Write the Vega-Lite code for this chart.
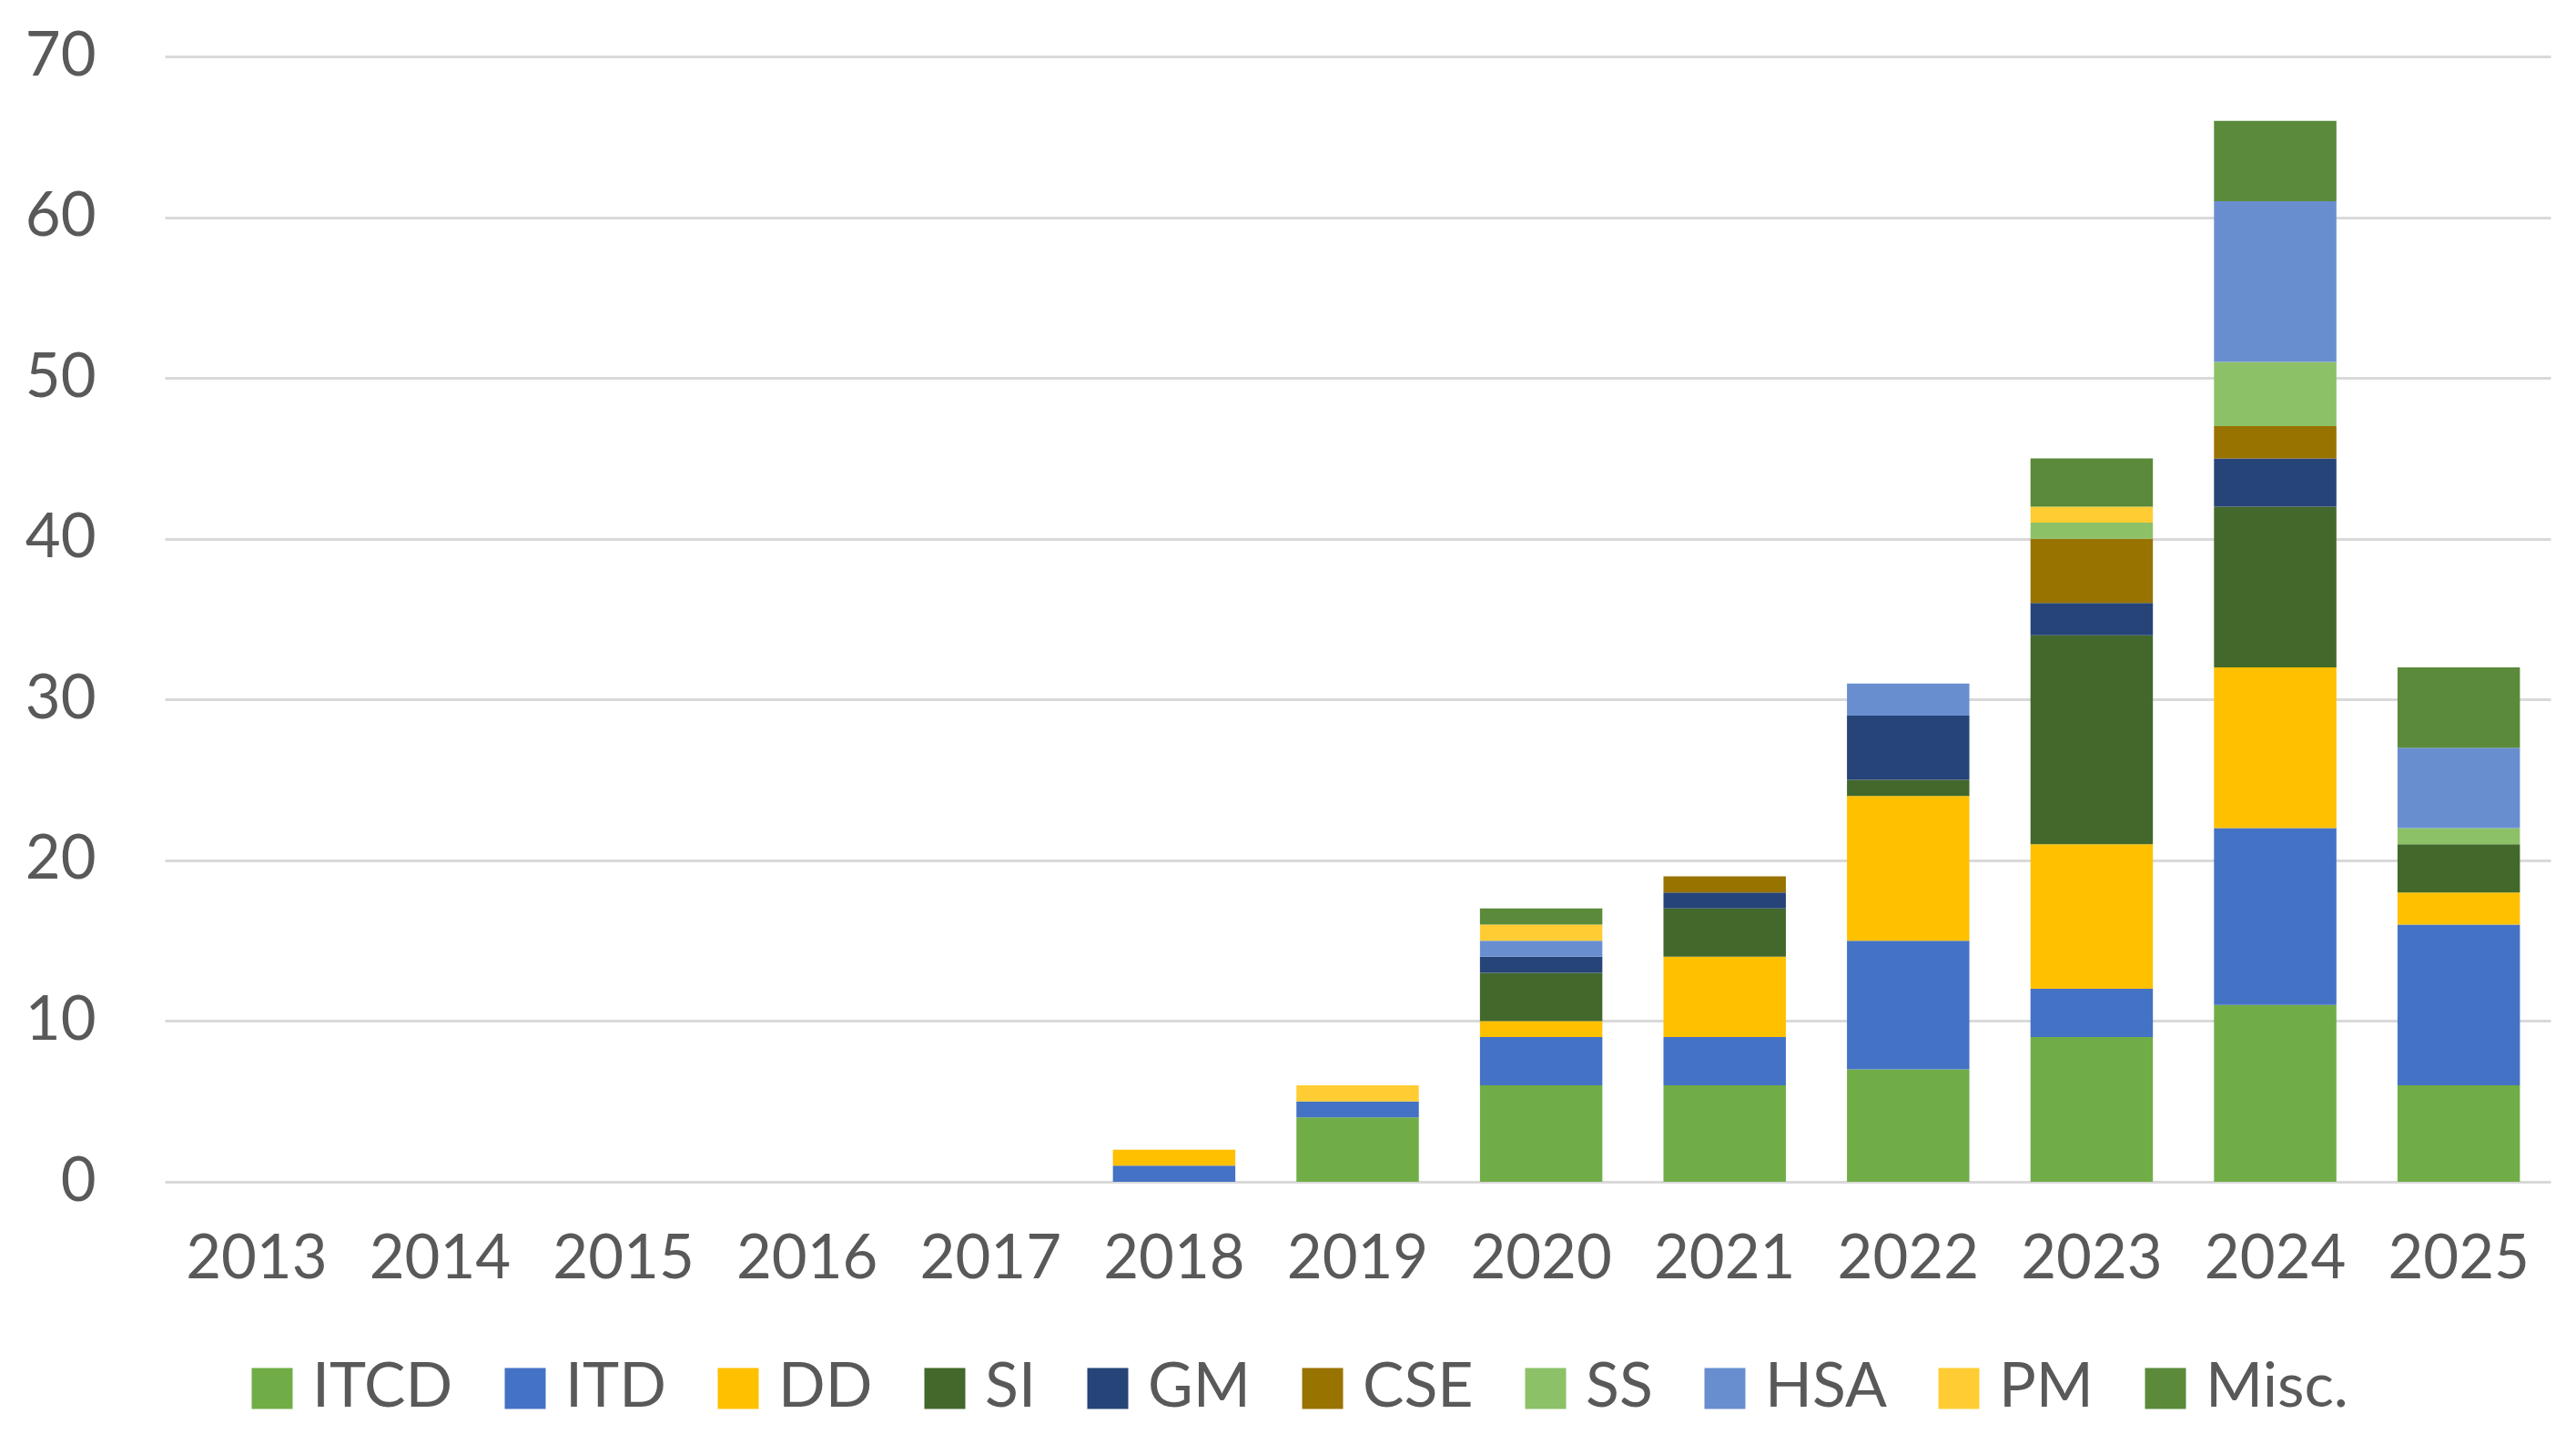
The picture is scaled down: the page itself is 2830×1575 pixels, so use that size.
{
  "$schema": "https://vega.github.io/schema/vega-lite/v6.json",
  "autosize": {"type": "none"},
  "width": 2621,
  "height": 1236,
  "padding": {"left": 181, "top": 62, "right": 28, "bottom": 277},
  "background": "white",
  "config": {
    "view": {"stroke": null},
    "font": "Lato",
    "axis": {"labelColor": "#595959", "labelFont": "Lato", "labelFontSize": 67},
    "legend": {"labelColor": "#595959", "labelFont": "Lato", "labelFontSize": 68}
  },
  "datasets": {
    "cats": [
      {"cat": "ITCD", "rank": 1},
      {"cat": "ITD", "rank": 2},
      {"cat": "DD", "rank": 3},
      {"cat": "SI", "rank": 4},
      {"cat": "GM", "rank": 5},
      {"cat": "CSE", "rank": 6},
      {"cat": "SS", "rank": 7},
      {"cat": "HSA", "rank": 8},
      {"cat": "PM", "rank": 9},
      {"cat": "Misc.", "rank": 10}
    ],
    "counts": [
      {"year": "2018", "cat": "ITD", "n": 1},
      {"year": "2018", "cat": "DD", "n": 1},
      {"year": "2019", "cat": "ITCD", "n": 4},
      {"year": "2019", "cat": "ITD", "n": 1},
      {"year": "2019", "cat": "PM", "n": 1},
      {"year": "2020", "cat": "ITCD", "n": 6},
      {"year": "2020", "cat": "ITD", "n": 3},
      {"year": "2020", "cat": "DD", "n": 1},
      {"year": "2020", "cat": "SI", "n": 3},
      {"year": "2020", "cat": "GM", "n": 1},
      {"year": "2020", "cat": "HSA", "n": 1},
      {"year": "2020", "cat": "PM", "n": 1},
      {"year": "2020", "cat": "Misc.", "n": 1},
      {"year": "2021", "cat": "ITCD", "n": 6},
      {"year": "2021", "cat": "ITD", "n": 3},
      {"year": "2021", "cat": "DD", "n": 5},
      {"year": "2021", "cat": "SI", "n": 3},
      {"year": "2021", "cat": "GM", "n": 1},
      {"year": "2021", "cat": "CSE", "n": 1},
      {"year": "2022", "cat": "ITCD", "n": 7},
      {"year": "2022", "cat": "ITD", "n": 8},
      {"year": "2022", "cat": "DD", "n": 9},
      {"year": "2022", "cat": "SI", "n": 1},
      {"year": "2022", "cat": "GM", "n": 4},
      {"year": "2022", "cat": "HSA", "n": 2},
      {"year": "2023", "cat": "ITCD", "n": 9},
      {"year": "2023", "cat": "ITD", "n": 3},
      {"year": "2023", "cat": "DD", "n": 9},
      {"year": "2023", "cat": "SI", "n": 13},
      {"year": "2023", "cat": "GM", "n": 2},
      {"year": "2023", "cat": "CSE", "n": 4},
      {"year": "2023", "cat": "SS", "n": 1},
      {"year": "2023", "cat": "PM", "n": 1},
      {"year": "2023", "cat": "Misc.", "n": 3},
      {"year": "2024", "cat": "ITCD", "n": 11},
      {"year": "2024", "cat": "ITD", "n": 11},
      {"year": "2024", "cat": "DD", "n": 10},
      {"year": "2024", "cat": "SI", "n": 10},
      {"year": "2024", "cat": "GM", "n": 3},
      {"year": "2024", "cat": "CSE", "n": 2},
      {"year": "2024", "cat": "SS", "n": 4},
      {"year": "2024", "cat": "HSA", "n": 10},
      {"year": "2024", "cat": "Misc.", "n": 5},
      {"year": "2025", "cat": "ITCD", "n": 6},
      {"year": "2025", "cat": "ITD", "n": 10},
      {"year": "2025", "cat": "DD", "n": 2},
      {"year": "2025", "cat": "SI", "n": 3},
      {"year": "2025", "cat": "SS", "n": 1},
      {"year": "2025", "cat": "HSA", "n": 5},
      {"year": "2025", "cat": "Misc.", "n": 5}
    ]
  },
  "data": {"name": "counts"},
  "transform": [
    {"lookup": "cat", "from": {"data": {"name": "cats"}, "key": "cat", "fields": ["rank"]}}
  ],
  "mark": {"type": "bar"},
  "encoding": {
    "x": {
      "field": "year",
      "type": "ordinal",
      "scale": {
        "domain": ["2013","2014","2015","2016","2017","2018","2019","2020","2021","2022","2023","2024","2025"],
        "paddingInner": 0.333,
        "paddingOuter": 0.1667
      },
      "axis": {
        "title": null,
        "labelAngle": 0,
        "domain": false,
        "ticks": false,
        "labelPadding": 52,
        "grid": false
      }
    },
    "y": {
      "field": "n",
      "type": "quantitative",
      "stack": "zero",
      "scale": {"domain": [0, 70], "nice": false},
      "axis": {
        "title": null,
        "values": [0, 10, 20, 30, 40, 50, 60, 70],
        "domain": false,
        "ticks": false,
        "labelPadding": 76,
        "gridColor": "#D9D9D9",
        "gridWidth": 3
      }
    },
    "color": {
      "field": "cat",
      "type": "nominal",
      "sort": ["ITCD","ITD","DD","SI","GM","CSE","SS","HSA","PM","Misc."],
      "scale": {
        "domain": ["ITCD","ITD","DD","SI","GM","CSE","SS","HSA","PM","Misc."],
        "range": ["#70AD47","#4472C4","#FFC000","#43682B","#264478","#997300","#8CC168","#698ED0","#FFCD33","#5A8A3A"]
      },
      "legend": {
        "title": null,
        "orient": "none",
        "direction": "horizontal",
        "columns": 10,
        "legendX": 84,
        "legendY": 1429,
        "symbolType": "square",
        "symbolSize": 2025,
        "symbolStrokeWidth": 0,
        "labelOffset": 10,
        "columnPadding": 45,
        "labelLimit": 400
      }
    },
    "order": {"field": "rank", "type": "quantitative", "sort": "ascending"}
  }
}
